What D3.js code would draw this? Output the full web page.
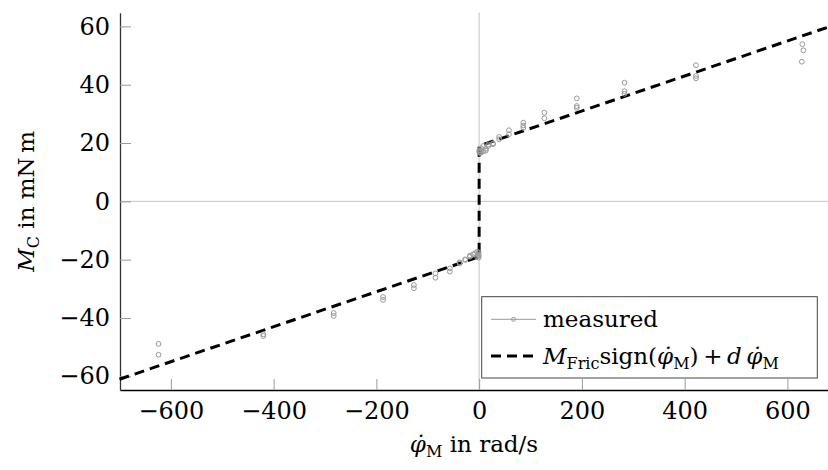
<!DOCTYPE html>
<html>
<head>
<meta charset="utf-8">
<script src="https://cdn.jsdelivr.net/npm/d3@7"></script>
<style>
  body { margin: 0; background: #fff; }
  svg { display: block; font-family: "DejaVu Serif", serif; }
  .tick text { font-family: "DejaVu Serif", serif; font-size: 24px; fill: #000; }
  .tick line { stroke: #9a9a9a; stroke-width: 1; }
  .y.axis .domain { stroke: #333; stroke-width: 1.3; }
  .x.axis .domain { stroke: #000; stroke-width: 1.3; }
  .zero { stroke: #c4c4c4; stroke-width: 1; }
  .meas { fill: none; stroke: #999; stroke-width: 1; }
  .fit { fill: none; stroke: #000; stroke-width: 3; stroke-dasharray: 10,6; }
</style>
</head>
<body>
<div id="chart"></div>
<script>
// measured friction torque vs motor speed
const measuredX = [
  629, 631, 628, 422, 422, 422, 283, 283, 283, 190, 190, 190,
  127, 127, 86, 86, 86, 58, 58, 39, 39, 27, 27, 18, 18, 13, 13,
  8, 8, 4, 4, 2, 2, 1, 0.5, 0.3,
  -624, -624, -420, -420, -283, -283, -187, -187, -127, -127,
  -85, -85, -57, -57, -38, -38, -27, -27, -18, -18, -12, -8,
  -4, -4, -2, -1, -1, -0.5
];
const measuredY = [
  53.9, 51.8, 47.9, 46.7, 43.0, 42.2, 40.7, 37.8, 36.9, 35.3, 32.7, 32.1,
  30.4, 28.5, 27.0, 26.0, 25.2, 24.4, 23.0, 22.1, 21.3, 19.9, 19.6, 19.5, 19.0, 18.0, 17.4,
  19.0, 17.2, 18.2, 16.8, 17.5, 16.6, 17.0, 16.8, 17.4,
  -48.9, -52.6, -45.6, -46.2, -38.3, -39.3, -32.8, -33.8, -28.7, -29.8,
  -24.7, -26.2, -23.0, -24.1, -20.9, -21.3, -19.9, -20.1, -19.0, -18.6, -18.2, -17.8,
  -17.3, -19.0, -18.2, -17.5, -19.3, -18.6
];

// model line M_Fric*sign(w) + d*w
const fitX = [-700, 0, 0, 680];
const fitY = [-61.0, -19.0, 19.0, 59.8];

const xTicks = [-600, -400, -200, 0, 200, 400, 600];
const yTicks = [-60, -40, -20, 0, 20, 40, 60];

const W = 828, H = 470;
const margin = { left: 120, right: 828, top: 12.7, bottom: 390 };

const svg = d3.select("#chart").append("svg")
  .attr("width", W)
  .attr("height", H);

const x = d3.scaleLinear().domain([-699, 679]).range([margin.left, margin.right]);
const y = d3.scaleLinear().domain([-64.7, 64.7]).range([margin.bottom, margin.top]);

// zero lines
svg.append("line").attr("class", "zero")
  .attr("x1", margin.left).attr("x2", margin.right)
  .attr("y1", y(0)).attr("y2", y(0));
svg.append("line").attr("class", "zero")
  .attr("x1", x(0)).attr("x2", x(0))
  .attr("y1", margin.top).attr("y2", margin.bottom);

// axes
svg.append("g")
  .attr("class", "x axis")
  .attr("transform", "translate(0," + margin.bottom + ")")
  .call(d3.axisBottom(x).tickValues(xTicks).tickSize(-11).tickSizeOuter(0).tickPadding(12));

svg.append("g")
  .attr("class", "y axis")
  .attr("transform", "translate(" + margin.left + ",0)")
  .call(d3.axisLeft(y).tickValues(yTicks).tickSize(-11).tickSizeOuter(0).tickPadding(10));

// fit line
const pts = fitX.map((v, i) => [v, fitY[i]]);
svg.append("path")
  .datum(pts)
  .attr("class", "fit")
  .attr("d", d3.line().x(d => x(d[0])).y(d => y(d[1])));

// measured points
svg.append("g").selectAll("circle")
  .data(measuredX.map((v, i) => [v, measuredY[i]]))
  .join("circle")
  .attr("class", "meas")
  .attr("cx", d => x(d[0]))
  .attr("cy", d => y(d[1]))
  .attr("r", 2.4);

// legend
const lg = svg.append("g");
lg.append("rect")
  .attr("x", 481.7).attr("y", 296.7)
  .attr("width", 335.6).attr("height", 81.3)
  .attr("fill", "#fff").attr("stroke", "#444").attr("stroke-width", 1);

lg.append("line")
  .attr("x1", 491).attr("x2", 536).attr("y1", 319.3).attr("y2", 319.3)
  .attr("stroke", "#999").attr("stroke-width", 1);
lg.append("circle").attr("class", "meas")
  .attr("cx", 513.5).attr("cy", 319.3).attr("r", 2);
lg.append("text")
  .attr("x", 543).attr("y", 327)
  .attr("font-size", 23)
  .text("measured");

lg.append("line")
  .attr("x1", 491).attr("x2", 536).attr("y1", 356).attr("y2", 356)
  .attr("stroke", "#000").attr("stroke-width", 3).attr("stroke-dasharray", "10,6");

const t2 = lg.append("text").attr("x", 543).attr("y", 364).attr("font-size", 23);
t2.append("tspan").attr("font-style", "italic").text("M");
t2.append("tspan").attr("font-size", 16).attr("dy", 5).text("Fric");
t2.append("tspan").attr("dy", -5).text("sign(");
t2.append("tspan").attr("font-style", "italic").text("\u03C6\u0307");
t2.append("tspan").attr("font-size", 16).attr("dy", 5).text("M");
t2.append("tspan").attr("dy", -5).text(")\u2009+\u2009");
t2.append("tspan").attr("font-style", "italic").text("d\u2009\u03C6\u0307");
t2.append("tspan").attr("font-size", 16).attr("dy", 5).text("M");

// axis labels
const xl = svg.append("text")
  .attr("x", (margin.left + margin.right) / 2).attr("y", 452)
  .attr("text-anchor", "middle").attr("font-size", 23);
xl.append("tspan").attr("font-style", "italic").text("\u03C6\u0307");
xl.append("tspan").attr("font-size", 16).attr("dy", 5).text("M");
xl.append("tspan").attr("dy", -5).text(" in rad/s");

const yl = svg.append("text")
  .attr("transform", "translate(34," + y(0) + ") rotate(-90)")
  .attr("text-anchor", "middle").attr("font-size", 23);
yl.append("tspan").attr("font-style", "italic").text("M");
yl.append("tspan").attr("font-size", 16).attr("dy", 5).text("C");
yl.append("tspan").attr("dy", -5).text(" in mN\u2009m");
</script>
</body>
</html>
